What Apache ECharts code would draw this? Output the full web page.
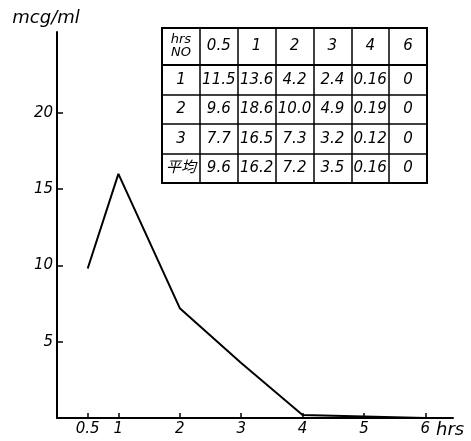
<!DOCTYPE html>
<html><head><meta charset="utf-8">
<script src="https://cdn.jsdelivr.net/npm/echarts@6/dist/echarts.min.js"></script>
<style>html,body{margin:0;padding:0;background:#fff}#c{width:471px;height:441px}</style>
</head><body><div id="c"></div>
<script>
// Curve (mean serum level)
const curveHours = [0.5, 1, 2, 3, 4, 6];
const curveValues = [9.8, 16.0, 7.2, 3.6, 0.2, 0];
const xTickValues = [0.5, 1, 2, 3, 4, 5, 6];
const yTickValues = [5, 10, 15, 20];

// Table
const tableHeaderCorner = 'hrs\nNO';
const tableHours = ['0.5', '1', '2', '3', '4', '6'];
const tableRowNames = ['1', '2', '3', '平均'];
const subject1 = ['11.5', '13.6', '4.2', '2.4', '0.16', '0'];
const subject2 = ['9.6', '18.6', '10.0', '4.9', '0.19', '0'];
const subject3 = ['7.7', '16.5', '7.3', '3.2', '0.12', '0'];
const average  = ['9.6', '16.2', '7.2', '3.5', '0.16', '0'];

const FONT = "'DejaVu Sans', 'Noto Sans CJK JP', sans-serif";
const INK = '#000';
const tableRows = [subject1, subject2, subject3, average];
const colCats = ['head'].concat(tableHours);
const headCells = [{value: [0, 0], text: tableHeaderCorner, head: true}];
tableHours.forEach((h, i) => headCells.push({value: [i + 1, 0], text: h}));
const bodyCells = [];
tableRows.forEach((row, r) => {
  bodyCells.push({value: [0, r], text: tableRowNames[r]});
  row.forEach((v, c) => bodyCells.push({value: [c + 1, r], text: v}));
});

const catX = gi => ({
  type: 'category', gridIndex: gi, data: colCats, boundaryGap: true,
  axisLine: {show: false}, axisTick: {show: false}, axisLabel: {show: false},
  splitLine: {show: true, interval: 0, lineStyle: {color: INK, width: 1.5}}
});
const catY = (gi, data) => ({
  type: 'category', gridIndex: gi, data: data, inverse: true, boundaryGap: true,
  axisLine: {show: false}, axisTick: {show: false}, axisLabel: {show: false},
  splitLine: {show: true, interval: 0, lineStyle: {color: INK, width: 1.5}}
});
const textSeries = (ai, data) => ({
  type: 'scatter', xAxisIndex: ai, yAxisIndex: ai,
  symbol: 'rect', symbolSize: 0, itemStyle: {color: '#fff', opacity: 1},
  data: data.map(c => ({
    value: c.value, text: c.text,
    label: c.head ? {fontSize: 13, lineHeight: 13} : undefined
  })),
  label: {
    show: true, position: 'inside', color: INK, opacity: 1,
    fontFamily: FONT, fontStyle: 'italic', fontSize: 15, lineHeight: 15,
    formatter: p => p.data.text
  },
  silent: true
});

const chart = echarts.init(document.getElementById('c'), null, {renderer: 'canvas'});
chart.setOption({
  animation: false,
  backgroundColor: '#fff',
  grid: [
    {left: 57, top: 32, right: 18, bottom: 23, show: false},
    {left: 162, top: 28, width: 265, height: 37, show: true, borderColor: INK, borderWidth: 2, backgroundColor: 'transparent'},
    {left: 162, top: 65, width: 265, height: 118, show: true, borderColor: INK, borderWidth: 2, backgroundColor: 'transparent'}
  ],
  xAxis: [
    {
      type: 'value', gridIndex: 0, min: 0, max: 6.45,
      name: 'hrs', nameLocation: 'end', nameGap: -17,
      nameTextStyle: {fontFamily: FONT, fontStyle: 'italic', fontSize: 18, color: INK, align: 'left', verticalAlign: 'top', padding: [3, 0, 0, 0]},
      axisLine: {show: true, onZero: false, lineStyle: {color: INK, width: 2}},
      axisTick: {show: true, inside: true, length: 5, customValues: xTickValues, lineStyle: {color: INK, width: 1.5}},
      axisLabel: {customValues: xTickValues, margin: 4, fontFamily: FONT, fontStyle: 'italic', fontSize: 15, color: INK},
      splitLine: {show: false}
    },
    catX(1),
    catX(2)
  ],
  yAxis: [
    {
      type: 'value', gridIndex: 0, min: 0, max: 25.3,
      name: 'mcg/ml', nameLocation: 'end', nameGap: 5,
      nameTextStyle: {fontFamily: FONT, fontStyle: 'italic', fontSize: 18, color: INK, align: 'center', padding: [0, 22, 0, 0]},
      axisLine: {show: true, onZero: false, lineStyle: {color: INK, width: 2}},
      axisTick: {show: true, inside: true, length: 6, customValues: yTickValues, lineStyle: {color: INK, width: 1.5}},
      axisLabel: {customValues: yTickValues, margin: 4, fontFamily: FONT, fontStyle: 'italic', fontSize: 15, color: INK},
      splitLine: {show: false}
    },
    catY(1, ['head']),
    catY(2, tableRowNames)
  ],
  series: [
    {
      type: 'line', xAxisIndex: 0, yAxisIndex: 0,
      data: curveHours.map((h, i) => [h, curveValues[i]]),
      symbol: 'none', lineStyle: {color: INK, width: 2}, silent: true
    },
    textSeries(1, headCells),
    textSeries(2, bodyCells)
  ]
});
</script></body></html>
